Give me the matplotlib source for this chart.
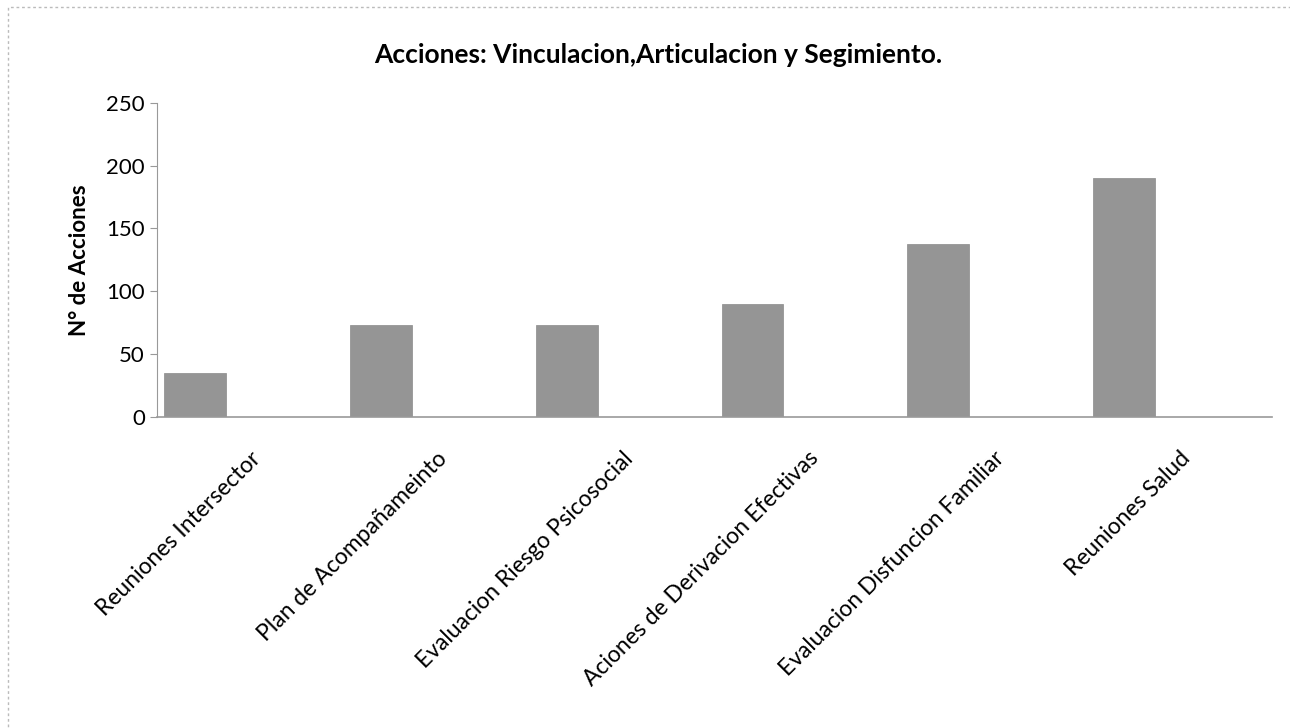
import numpy as np
import matplotlib
matplotlib.use("Agg")
import matplotlib.pyplot as plt
from matplotlib.patches import Rectangle

# data
categorias = ["Reuniones Intersector", "Plan de Acompañameinto", "Evaluacion Riesgo Psicosocial",
              "Aciones de Derivacion Efectivas", "Evaluacion Disfuncion Familiar", "Reuniones Salud"]
acciones = [35, 73, 73, 90, 138, 190]
yticks = [0, 50, 100, 150, 200, 250]

plt.rcParams['font.family'] = ['Lato', 'DejaVu Sans']

fig = plt.figure(figsize=(12.9, 7.28), dpi=100)
ax = fig.add_axes([0.122, 0.427, 0.864, 0.432])

x = np.arange(len(categorias))
# bars sit left of the category centre, like an excel clustered chart
ax.bar(x - 0.296, acciones, width=0.333, color='#959595', edgecolor='#8a8a8a', linewidth=0.5)

ax.set_xlim(-0.5, len(categorias) - 0.5)
ax.set_ylim(0, 250)
ax.set_yticks(yticks)
ax.tick_params(axis='y', direction='out', length=5, color='#999999', labelsize=16, pad=4)
ax.tick_params(axis='x', length=0, pad=22)
ax.set_xticks(x)
ax.set_xticklabels(categorias, rotation=45, ha='right', rotation_mode='anchor', fontsize=16.5)

for s in ['top', 'right']:
    ax.spines[s].set_visible(False)
ax.spines['left'].set_color('#999999')
ax.spines['bottom'].set_color('#999999')
ax.spines['bottom'].set_linewidth(1.2)

ax.set_ylabel("N° de Acciones", fontsize=16, fontweight='bold', labelpad=12)
fig.text(0.51, 0.924, "Acciones: Vinculacion,Articulacion y Segimiento.",
         ha='center', va='center', fontsize=19, fontweight='bold')

# faint chart-area border from the scan
fig.patches.append(Rectangle((0.006, -0.01), 1.1, 1.0, transform=fig.transFigure,
                             fill=False, edgecolor='#bbbbbb', linewidth=1, linestyle=(0, (2, 2))))

fig.savefig("out.png", dpi=100)
